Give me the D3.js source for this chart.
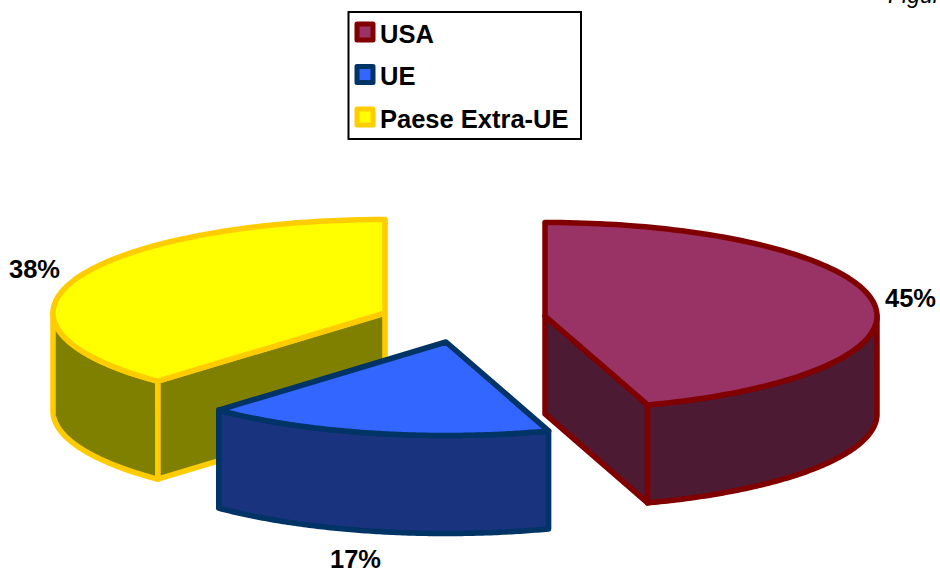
<!DOCTYPE html>
<html><head><meta charset="utf-8">
<script src="https://cdn.jsdelivr.net/npm/d3@7/dist/d3.min.js"></script>
<style>html,body{margin:0;padding:0;background:#fff}svg{display:block}text{font-family:"Liberation Sans",Arial,sans-serif}</style>
</head><body><svg id="c" width="940" height="570"></svg>
<script>
const categories = ["USA", "UE", "Paese Extra-UE"];
const values = [45, 17, 38];
const valueLabels = ["45%", "17%", "38%"];
const topColors = ["#993366", "#3366ff", "#ffff00"];
const sideColors = ["#4d1a33", "#1a337f", "#808000"];
const edgeColors = ["#800000", "#003366", "#ffcc00"];

// layout (not data)
const centersX = [545, 446, 385], centersY = [316, 342, 313];
const RX = 332, RY = 93.5, DEPTH = 98, SW = 5.5;
const labelPos = [[885, 307], [330, 568], [9, 278]];
const drawOrder = [2, 0, 1];

const svg = d3.select("#c");
const pie = d3.pie().sort(null).value(d => d).startAngle(0).endAngle(2 * Math.PI);
const arcs = pie(values);
const line = d3.line();
const sx = d3.scaleLinear().domain([-1, 1]).range([-RX, RX]);
const sy = d3.scaleLinear().domain([-1, 1]).range([-RY, RY]);
const pt = (i, t, z = 0) => [centersX[i] + sx(Math.sin(t)), centersY[i] + sy(-Math.cos(t)) + z];
const rim = (i, a0, a1, z = 0) => d3.range(0, 121).map(k => pt(i, a0 + (a1 - a0) * k / 120, z));
const draw = (i, pts, fill, close) => svg.append("path")
  .attr("d", line(pts) + (close ? "Z" : ""))
  .attr("fill", fill).attr("stroke", edgeColors[i]).attr("stroke-width", SW)
  .attr("stroke-linejoin", "round").attr("stroke-linecap", "round");

drawOrder.forEach(i => {
  const a = arcs[i], c = [centersX[i], centersY[i]];
  const c2 = [c[0], c[1] + DEPTH];
  if (i === 0) {
    const e = pt(i, a.endAngle);
    draw(i, [c, e, [e[0], e[1] + DEPTH], c2], sideColors[i], true);
  } else if (i === 2) {
    const s = pt(i, a.startAngle);
    draw(i, [c, s, [s[0], s[1] + DEPTH], c2], sideColors[i], true);
  }
  const from = Math.max(a.startAngle, Math.PI / 2), to = Math.min(a.endAngle, 3 * Math.PI / 2);
  if (to > from) {
    draw(i, rim(i, from, to).concat(rim(i, to, from, DEPTH)), sideColors[i], true);
  }
  draw(i, [c].concat(rim(i, a.startAngle, a.endAngle)), topColors[i], true);
});

valueLabels.forEach((t, i) => svg.append("text")
  .attr("x", labelPos[i][0]).attr("y", labelPos[i][1])
  .attr("font-size", 25.5).attr("font-weight", "bold").attr("fill", "#000").text(t));

svg.append("rect").attr("x", 348.5).attr("y", 12).attr("width", 232.5).attr("height", 127)
  .attr("fill", "#fff").attr("stroke", "#000").attr("stroke-width", 2);
const ly = d3.scalePoint().domain(categories).range([32, 117]);
categories.forEach((c, i) => {
  svg.append("rect").attr("x", 357).attr("y", ly(c) - 8).attr("width", 16).attr("height", 16)
    .attr("fill", topColors[i]).attr("stroke", edgeColors[i]).attr("stroke-width", 5).attr("stroke-linejoin", "round");
  svg.append("text").attr("x", 380).attr("y", ly(c) + 10.5)
    .attr("font-size", 25.5).attr("font-weight", "bold").attr("fill", "#000").text(c);
});

svg.append("text").attr("x", 888).attr("y", 3).attr("font-size", 23).attr("font-style", "italic")
  .attr("fill", "#000").text("Figura 1");
</script></body></html>
